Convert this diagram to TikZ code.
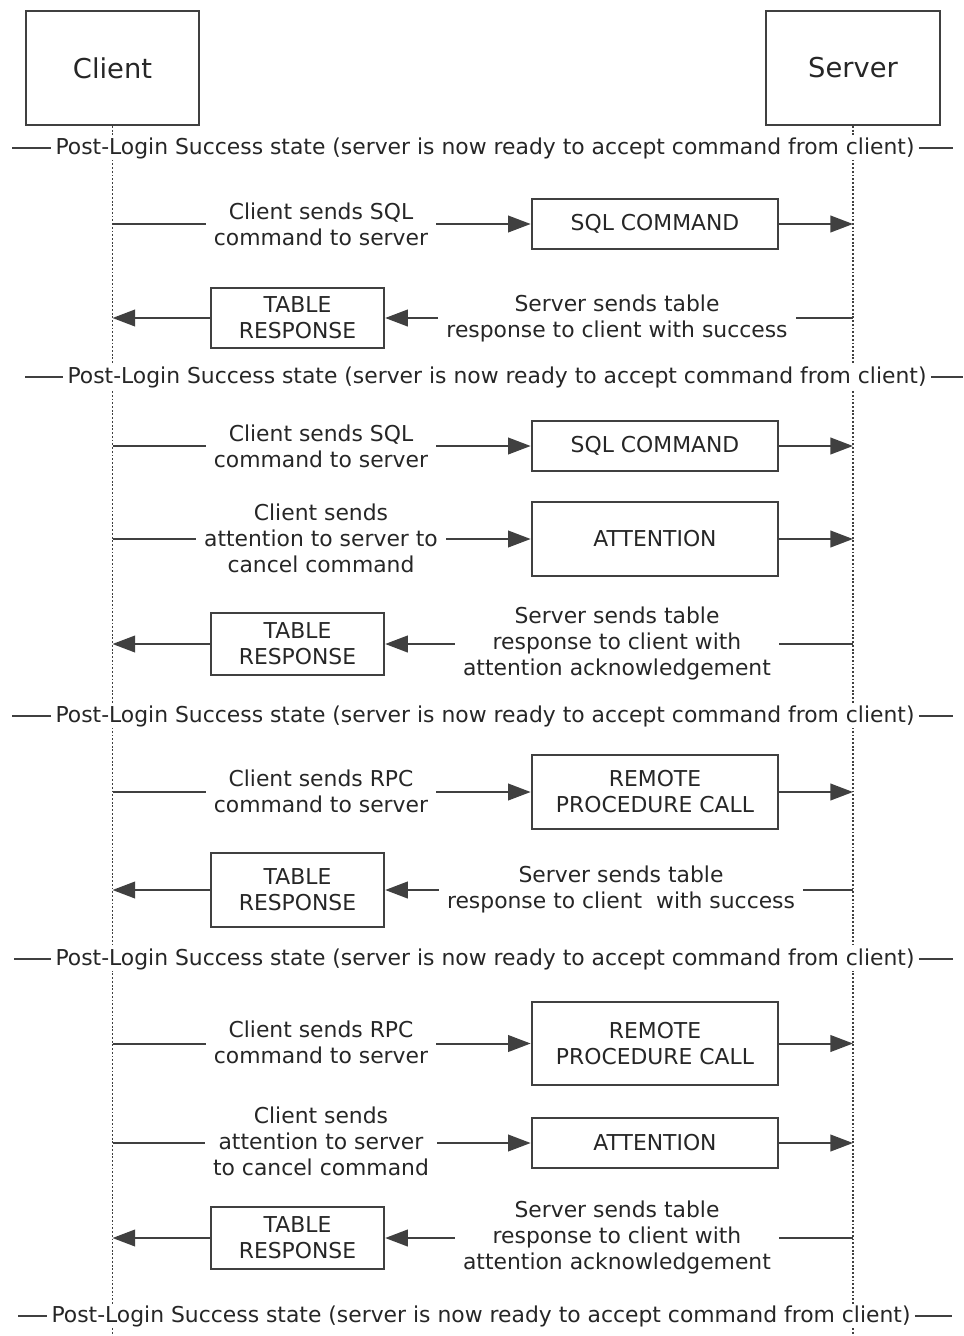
\documentclass[tikz,border=0pt]{standalone}
\usepackage{fontspec}
\setmainfont{DejaVu Sans}
\usetikzlibrary{arrows.meta}

\begin{document}
\begin{tikzpicture}[x=0.75pt, y=-0.75pt,
  every node/.style={font=\fontsize{16.4}{19.5}\selectfont, text=black!85},
  actor/.style={draw=black!75, line width=1.5pt, minimum width=130pt, minimum height=85.5pt, font=\fontsize{20.5}{24}\selectfont},
  cmdbox/.style={draw=black!75, line width=1.5pt, minimum width=185pt, align=center},
  respbox/.style={draw=black!75, line width=1.5pt, minimum width=130pt, align=center},
  msg/.style={align=center, inner xsep=6pt},
  state/.style={fill=white, inner xsep=3pt, inner ysep=1pt},
  lifeline/.style={draw=black!75, line width=1.3pt, dash pattern=on 1.4pt off 1.4pt},
  link/.style={draw=black!75, line width=1.5pt},
  arrow/.style={link, -{Triangle[length=17pt, width=12.5pt]}}]

  \useasboundingbox (0,0) rectangle (964,1336);

  % participants and lifelines
  \node (client) [actor] at (112.5,68) {Client};
  \node (server) [actor] at (853,68) {Server};
  \coordinate (cend) at (112.5,1336);
  \coordinate (send) at (853,1336);
  \draw [lifeline] (client.south) -- (cend);
  \draw [lifeline] (server.south) -- (send);

  % state separators
  \coordinate (s1l) at (12,148);  \coordinate (s1r) at (953,148);
  \coordinate (s2l) at (25,377);  \coordinate (s2r) at (963,377);
  \coordinate (s3l) at (12,716);  \coordinate (s3r) at (953,716);
  \coordinate (s4l) at (14,959);  \coordinate (s4r) at (953,959);
  \coordinate (s5l) at (18,1316); \coordinate (s5r) at (952,1316);
  \node (s1) [state] at (485,148) {Post-Login Success state (server is now ready to accept command from client)};
  \node (s2) [state] at (497,377) {Post-Login Success state (server is now ready to accept command from client)};
  \node (s3) [state] at (485,716) {Post-Login Success state (server is now ready to accept command from client)};
  \node (s4) [state] at (485,959) {Post-Login Success state (server is now ready to accept command from client)};
  \node (s5) [state] at (481,1316) {Post-Login Success state (server is now ready to accept command from client)};
  \draw [link] (s1l) -- (s1.west);  \draw [link] (s1.east) -- (s1r);
  \draw [link] (s2l) -- (s2.west);  \draw [link] (s2.east) -- (s2r);
  \draw [link] (s3l) -- (s3.west);  \draw [link] (s3.east) -- (s3r);
  \draw [link] (s4l) -- (s4.west);  \draw [link] (s4.east) -- (s4r);
  \draw [link] (s5l) -- (s5.west);  \draw [link] (s5.east) -- (s5r);

  % SQL batch
  \node (m1) [msg] at (321,224) {Client sends SQL\\command to server};
  \node (sql1) [cmdbox, minimum height=37pt] at (655,224) {SQL COMMAND};
  \draw [link] (client |- sql1) -- (m1.west);
  \draw [arrow] (m1.east) -- (sql1.west);
  \draw [arrow] (sql1.east) -- (server |- sql1);

  \node (m2) [msg] at (617,318) {Server sends table\\response to client with success};
  \node (resp1) [respbox, minimum height=45pt] at (297.5,318) {TABLE\\RESPONSE};
  \draw [link] (server |- resp1) -- (m2.east);
  \draw [arrow] (m2.west) -- (resp1.east);
  \draw [arrow] (resp1.west) -- (client |- resp1);

  % SQL batch with attention
  \node (m3) [msg] at (321,446) {Client sends SQL\\command to server};
  \node (sql2) [cmdbox, minimum height=37pt] at (655,446) {SQL COMMAND};
  \draw [link] (client |- sql2) -- (m3.west);
  \draw [arrow] (m3.east) -- (sql2.west);
  \draw [arrow] (sql2.east) -- (server |- sql2);

  \node (m4) [msg] at (321,538) {Client sends\\attention to server to\\cancel command};
  \node (attn1) [cmdbox, minimum height=55.5pt] at (655,539) {ATTENTION};
  \draw [link] (client |- attn1) -- (m4.west |- attn1);
  \draw [arrow] (m4.east |- attn1) -- (attn1.west);
  \draw [arrow] (attn1.east) -- (server |- attn1);

  \node (m5) [msg] at (617,643) {Server sends table\\response to client with\\attention acknowledgement};
  \node (resp2) [respbox, minimum height=46.5pt] at (297.5,644) {TABLE\\RESPONSE};
  \draw [link] (server |- resp2) -- (m5.east |- resp2);
  \draw [arrow] (m5.west |- resp2) -- (resp2.east);
  \draw [arrow] (resp2.west) -- (client |- resp2);

  % RPC
  \node (m6) [msg] at (321,791) {Client sends RPC\\command to server};
  \node (rpc1) [cmdbox, minimum height=55pt] at (655,792) {REMOTE\\PROCEDURE CALL};
  \draw [link] (client |- rpc1) -- (m6.west |- rpc1);
  \draw [arrow] (m6.east |- rpc1) -- (rpc1.west);
  \draw [arrow] (rpc1.east) -- (server |- rpc1);

  \node (m7) [msg] at (621,889) {Server sends table\\response to client~ with success};
  \node (resp3) [respbox, minimum height=55.5pt] at (297.5,890) {TABLE\\RESPONSE};
  \draw [link] (server |- resp3) -- (m7.east |- resp3);
  \draw [arrow] (m7.west |- resp3) -- (resp3.east);
  \draw [arrow] (resp3.west) -- (client |- resp3);

  % RPC with attention
  \node (m8) [msg] at (321,1042) {Client sends RPC\\command to server};
  \node (rpc2) [cmdbox, minimum height=62pt] at (655,1043.5) {REMOTE\\PROCEDURE CALL};
  \draw [link] (client |- rpc2) -- (m8.west |- rpc2);
  \draw [arrow] (m8.east |- rpc2) -- (rpc2.west);
  \draw [arrow] (rpc2.east) -- (server |- rpc2);

  \node (m9) [msg] at (321,1141) {Client sends\\attention to server\\to cancel command};
  \node (attn2) [cmdbox, minimum height=37.5pt] at (655,1143) {ATTENTION};
  \draw [link] (client |- attn2) -- (m9.west |- attn2);
  \draw [arrow] (m9.east |- attn2) -- (attn2.west);
  \draw [arrow] (attn2.east) -- (server |- attn2);

  \node (m10) [msg] at (617,1237) {Server sends table\\response to client with\\attention acknowledgement};
  \node (resp4) [respbox, minimum height=46.5pt] at (297.5,1238) {TABLE\\RESPONSE};
  \draw [link] (server |- resp4) -- (m10.east |- resp4);
  \draw [arrow] (m10.west |- resp4) -- (resp4.east);
  \draw [arrow] (resp4.west) -- (client |- resp4);
\end{tikzpicture}
\end{document}
